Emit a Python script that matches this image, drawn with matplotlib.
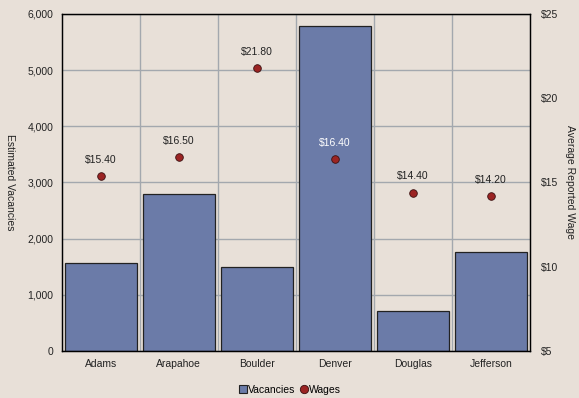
import matplotlib.pyplot as plt
from matplotlib.lines import Line2D
import numpy as np

plt.rcParams['font.family'] = ['Liberation Sans', 'DejaVu Sans']

counties = ['Adams', 'Arapahoe', 'Boulder', 'Denver', 'Douglas', 'Jefferson']
vacancies = [1570, 2800, 1500, 5790, 710, 1760]
wages = [15.40, 16.50, 21.80, 16.40, 14.40, 14.20]

bg = '#E8E0D8'
bar_color = '#6B7BA8'
dot_color = '#9B2423'
grid_color = '#A3A8AE'

fig = plt.figure(figsize=(5.79, 3.98), dpi=100, facecolor=bg)
ax = fig.add_axes([0.107, 0.118, 0.808, 0.847], facecolor=bg)
x = np.arange(len(counties))

ax.bar(x, vacancies, width=0.92, color=bar_color, edgecolor='#222222', linewidth=0.9, zorder=3)
ax.set_xlim(-0.5, len(counties) - 0.5)
ax.set_ylim(0, 6000)
ax.set_yticks(np.arange(0, 6001, 1000))
ax.set_yticklabels([f'{v:,}' for v in range(0, 6001, 1000)])
ax.set_xticks(x)
ax.set_xticklabels(counties)
ax.set_xticks(np.arange(0.5, len(counties) - 0.5, 1), minor=True)
ax.grid(axis='y', color=grid_color, linewidth=1.0, zorder=1)
ax.grid(axis='x', which='minor', color=grid_color, linewidth=1.0, zorder=1)
ax.tick_params(axis='both', which='both', length=0, labelsize=7.5, colors='#222222', pad=6)
ax.set_ylabel('Estimated Vacancies', rotation=270, fontsize=7.5, color='#222222', labelpad=16)
for s in ax.spines.values():
    s.set_color('#111111')
    s.set_linewidth(1.0)
    s.set_zorder(4)

ax2 = ax.twinx()
ax2.set_ylim(5, 25)
ax2.set_yticks([5, 10, 15, 20, 25])
ax2.set_yticklabels([f'${v}' for v in [5, 10, 15, 20, 25]])
ax2.tick_params(axis='y', length=0, labelsize=7.5, colors='#222222', pad=8)
ax2.set_ylabel('Average Reported Wage', rotation=270, fontsize=7.5, color='#222222', labelpad=12)
ax2.scatter(x, wages, s=30, color=dot_color, edgecolor='#3a1010', linewidth=0.6, zorder=5)
for xi, w, v in zip(x, wages, vacancies):
    inside = (w - 5) / 20 * 6000 < v
    ax2.annotate(f'${w:.2f}', (xi, w), xytext=(0, 8), textcoords='offset points',
                 ha='center', va='bottom', fontsize=7.5,
                 color='white' if inside else '#222222')

handles = [
    Line2D([], [], marker='s', linestyle='none', markersize=6, markerfacecolor=bar_color,
           markeredgecolor='#222222', markeredgewidth=0.8, label='Vacancies'),
    Line2D([], [], marker='o', linestyle='none', markersize=6, markerfacecolor=dot_color,
           markeredgecolor='#3a1010', markeredgewidth=0.6, label='Wages'),
]
fig.legend(handles=handles, loc='center', bbox_to_anchor=(0.5, 0.02), ncol=2, frameon=False,
           fontsize=7.5, handletextpad=0.0, columnspacing=0.3, handlelength=1.0)

fig.savefig('out.png', dpi=100, facecolor=bg)
